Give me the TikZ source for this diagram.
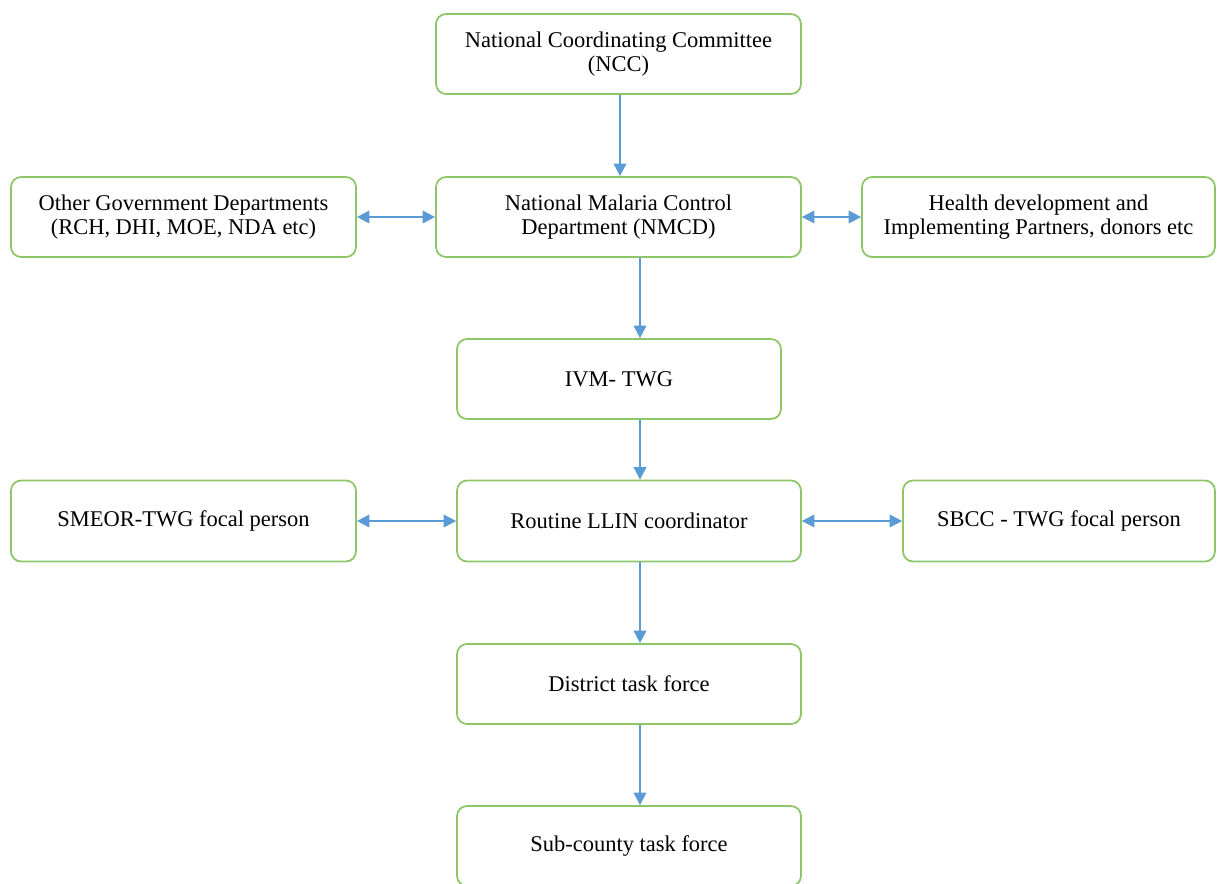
\documentclass[tikz,border=0pt]{standalone}
\usepackage{fontspec}
\setmainfont{Liberation Serif}
\usetikzlibrary{arrows.meta}
\usepackage{xcolor}
\definecolor{boxgreen}{RGB}{141,198,104}
\definecolor{linkblue}{RGB}{91,155,213}

\begin{document}
\begin{tikzpicture}[x=0.02cm,y=-0.02cm,>={Triangle[length=2.5mm,width=2.5mm]},font=\fontsize{12.8}{13.7}\selectfont,
  box/.style={draw=boxgreen,line width=1pt,rounded corners=0.2cm,minimum height=1.6cm,align=center,inner sep=0pt},
  link/.style={draw=linkblue,line width=1.1pt}]
\useasboundingbox (0,0) rectangle (1217,883);
\node[box,minimum width=7.3cm] (ncc) at (618.5,54) {National Coordinating Committee\\(NCC)};
\node[box,minimum width=7.3cm] (nmcd) at (618.5,217) {National Malaria Control\\Department (NMCD)};
\node[box,minimum width=6.9cm] (otherdept) at (183.5,217) {Other Government Departments\\(RCH, DHI, MOE, NDA etc)};
\node[box,minimum width=7.06cm] (partners) at (1038.5,217) {Health development and\\Implementing Partners, donors etc};
\node[box,minimum width=6.48cm] (ivm) at (619,379) {IVM- TWG};
\node[box,minimum width=6.9cm,minimum height=1.62cm] (smeor) at (183.5,521) {SMEOR-TWG focal person};
\node[box,minimum width=6.88cm,minimum height=1.62cm] (llin) at (629,521) {Routine LLIN coordinator};
\node[box,minimum width=6.24cm,minimum height=1.62cm] (sbcc) at (1059,521) {SBCC - TWG focal person};
\node[box,minimum width=6.88cm] (district) at (629,684) {District task force};
\node[box,minimum width=6.88cm] (subcounty) at (629,846) {Sub-county task force};
\coordinate (topspine) at (620,0);
\coordinate (spine) at (640,0);
\draw[link,->] (ncc.south -| topspine) -- (nmcd.north -| topspine);
\draw[link,<->] (otherdept) -- (nmcd);
\draw[link,<->] (nmcd) -- (partners);
\draw[link,->] (nmcd.south -| spine) -- (ivm.north -| spine);
\draw[link,->] (ivm.south -| spine) -- (llin.north -| spine);
\draw[link,<->] (smeor) -- (llin);
\draw[link,<->] (llin) -- (sbcc);
\draw[link,->] (llin.south -| spine) -- (district.north -| spine);
\draw[link,->] (district.south -| spine) -- (subcounty.north -| spine);
\end{tikzpicture}
\end{document}
